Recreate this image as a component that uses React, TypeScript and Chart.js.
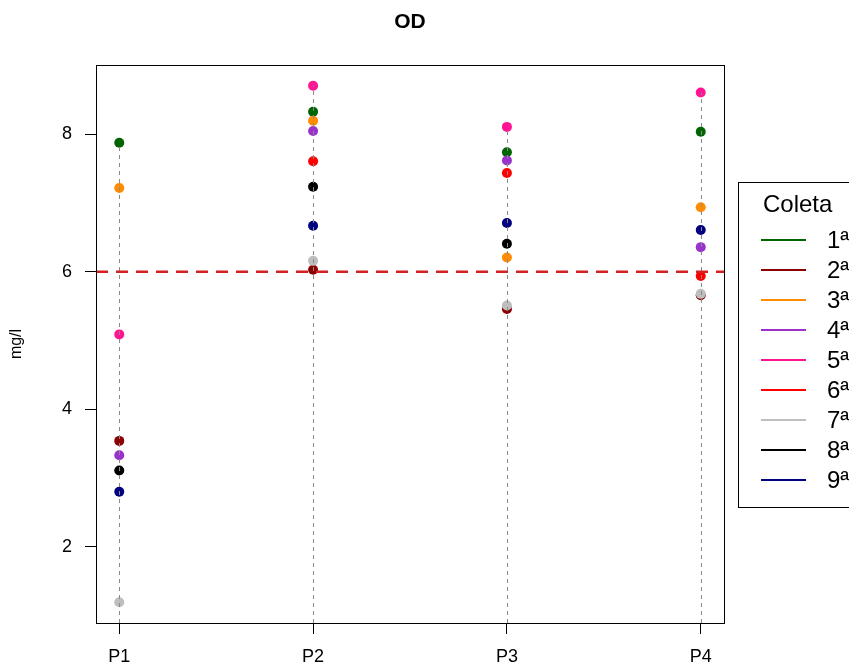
import React, { useEffect, useRef } from "react";
import { Chart, registerables } from "chart.js";

Chart.register(...registerables);

const chartTitle = "OD";
const yAxisTitle = "mg/l";
const legendTitle = "Coleta";
const categories = ["P1", "P2", "P3", "P4"];
const xPositions = [1, 2, 3, 4];
const yTicks = [2, 4, 6, 8];
const limitValue = 6;

const seriesLabels = ["1ª", "2ª", "3ª", "4ª", "5ª", "6ª", "7ª", "8ª", "9ª"];
const seriesColors = [
  "#006400",
  "#8B0000",
  "#FF8C00",
  "#9932CC",
  "#FF1493",
  "#FF0000",
  "#BEBEBE",
  "#000000",
  "#000080",
];

const coleta1 = [7.88, 8.33, 7.74, 8.04];
const coleta2 = [3.54, 6.03, 5.46, 5.66];
const coleta3 = [7.22, 8.2, 6.21, 6.94];
const coleta4 = [3.33, 8.05, 7.62, 6.36];
const coleta5 = [5.09, 8.71, 8.11, 8.61];
const coleta6 = [null, 7.61, 7.44, 5.94];
const coleta7 = [1.19, 6.16, 5.51, 5.68];
const coleta8 = [3.11, 7.24, 6.41, null];
const coleta9 = [2.8, 6.67, 6.71, 6.61];

const allSeries: (number | null)[][] = [
  coleta1, coleta2, coleta3, coleta4, coleta5, coleta6, coleta7, coleta8, coleta9,
];

const FONT = "'Liberation Sans', Arial, Helvetica, sans-serif";

function extendedRange(vals: number[]) {
  const lo = Math.min(...vals);
  const hi = Math.max(...vals);
  const ext = (hi - lo) * 0.04;
  return [lo - ext, hi + ext];
}

export default function App() {
  const canvasRef = useRef<HTMLCanvasElement | null>(null);

  useEffect(() => {
    if (!canvasRef.current) return;
    const allVals = allSeries.flat().filter((v) => v != null) as number[];
    const [yMin, yMax] = extendedRange(allVals);
    const [xMin, xMax] = extendedRange(xPositions);

    const datasets = allSeries.map((s, i) => ({
      label: seriesLabels[i],
      data: s
        .map((v, j) => (v == null ? null : { x: xPositions[j], y: v }))
        .filter((p) => p != null),
      backgroundColor: seriesColors[i],
      borderColor: seriesColors[i],
      pointRadius: 5,
      pointBorderWidth: 0,
      showLine: false,
      order: allSeries.length - i,
    }));

    const overlay = {
      id: "overlay",
      afterDatasetsDraw(chart: any) {
        const { ctx, chartArea } = chart;
        const x = chart.scales.x;
        const y = chart.scales.y;
        ctx.save();
        ctx.beginPath();
        ctx.rect(chartArea.left, chartArea.top, chartArea.right - chartArea.left, chartArea.bottom - chartArea.top);
        ctx.clip();
        // vertical dashed lines (type = "h")
        ctx.strokeStyle = "#8a8a8a";
        ctx.lineWidth = 1;
        ctx.setLineDash([4, 4]);
        xPositions.forEach((xv, j) => {
          const vals = allSeries.map((s) => s[j]).filter((v) => v != null) as number[];
          const top = Math.max(...vals);
          const px = Math.round(x.getPixelForValue(xv)) + 0.5;
          ctx.beginPath();
          ctx.moveTo(px, chartArea.bottom);
          ctx.lineTo(px, y.getPixelForValue(top));
          ctx.stroke();
        });
        // limit line
        ctx.strokeStyle = "#D42020";
        ctx.lineWidth = 2.5;
        ctx.setLineDash([12, 8]);
        const ly = y.getPixelForValue(limitValue);
        ctx.beginPath();
        ctx.moveTo(chartArea.left, ly);
        ctx.lineTo(chartArea.right, ly);
        ctx.stroke();
        ctx.restore();

        // box
        ctx.save();
        ctx.strokeStyle = "#000";
        ctx.lineWidth = 1;
        ctx.setLineDash([]);
        ctx.strokeRect(
          Math.round(chartArea.left) + 0.5,
          Math.round(chartArea.top) + 0.5,
          Math.round(chartArea.right - chartArea.left),
          Math.round(chartArea.bottom - chartArea.top)
        );
        ctx.restore();
      },
      afterDraw(chart: any) {
        const { ctx, chartArea } = chart;
        ctx.save();
        // title
        ctx.fillStyle = "#000";
        ctx.font = `bold 21px ${FONT}`;
        ctx.textAlign = "center";
        ctx.textBaseline = "middle";
        ctx.fillText(chartTitle, (chartArea.left + chartArea.right) / 2, 22);

        // legend
        const boxLeft = 738.5;
        const boxTop = 182.5;
        ctx.strokeStyle = "#000";
        ctx.lineWidth = 1;
        ctx.strokeRect(boxLeft, boxTop, 200, 325);
        ctx.font = `24px ${FONT}`;
        ctx.textAlign = "left";
        ctx.textBaseline = "middle";
        ctx.fillText(legendTitle, 763, 205);
        seriesLabels.forEach((lab, i) => {
          const ey = 240 + 30 * i;
          ctx.strokeStyle = seriesColors[i];
          ctx.lineWidth = 2;
          ctx.beginPath();
          ctx.moveTo(761, ey);
          ctx.lineTo(806, ey);
          ctx.stroke();
          ctx.fillStyle = "#000";
          ctx.fillText(lab, 827, ey + 1);
        });
        ctx.restore();
      },
    };

    const chart = new Chart(canvasRef.current, {
      type: "scatter",
      data: { datasets: datasets as any },
      options: {
        responsive: false,
        animation: false,
        devicePixelRatio: 1,
        layout: { padding: { top: 65, right: 125, left: 0, bottom: 0 } },
        plugins: {
          legend: { display: false },
          title: { display: false },
          tooltip: { enabled: false },
        },
        scales: {
          x: {
            type: "linear",
            min: xMin,
            max: xMax,
            border: { display: false },
            grid: {
              drawOnChartArea: false,
              drawTicks: true,
              tickLength: 11,
              color: "#000",
              lineWidth: 1,
            },
            ticks: {
              autoSkip: false,
              maxRotation: 0,
              padding: 12,
              color: "#000",
              font: { family: FONT, size: 18 },
              callback: (v: any) => {
                const idx = xPositions.indexOf(Number(v));
                return idx >= 0 ? categories[idx] : "";
              },
            },
            afterBuildTicks: (scale: any) => {
              scale.ticks = xPositions.map((v) => ({ value: v }));
            },
            afterFit: (scale: any) => {
              scale.height = 43;
            },
          },
          y: {
            type: "linear",
            min: yMin,
            max: yMax,
            border: { display: false },
            grid: {
              drawOnChartArea: false,
              drawTicks: true,
              tickLength: 11,
              color: "#000",
              lineWidth: 1,
            },
            ticks: {
              padding: 13,
              color: "#000",
              font: { family: FONT, size: 18 },
              callback: (v: any) => String(v),
            },
            afterBuildTicks: (scale: any) => {
              scale.ticks = yTicks.map((v) => ({ value: v }));
            },
            afterFit: (scale: any) => {
              scale.width = 96;
            },
            title: {
              display: true,
              text: yAxisTitle,
              color: "#000",
              font: { family: FONT, size: 16 },
              padding: { top: 7, bottom: 0 },
            },
          },
        },
      },
      plugins: [overlay],
    });
    return () => chart.destroy();
  }, []);

  return (
    <div style={{ position: "fixed", left: 0, top: 0, width: 849, height: 666, background: "#fff" }}>
      <canvas ref={canvasRef} width={849} height={666} style={{ display: "block" }} />
    </div>
  );
}
